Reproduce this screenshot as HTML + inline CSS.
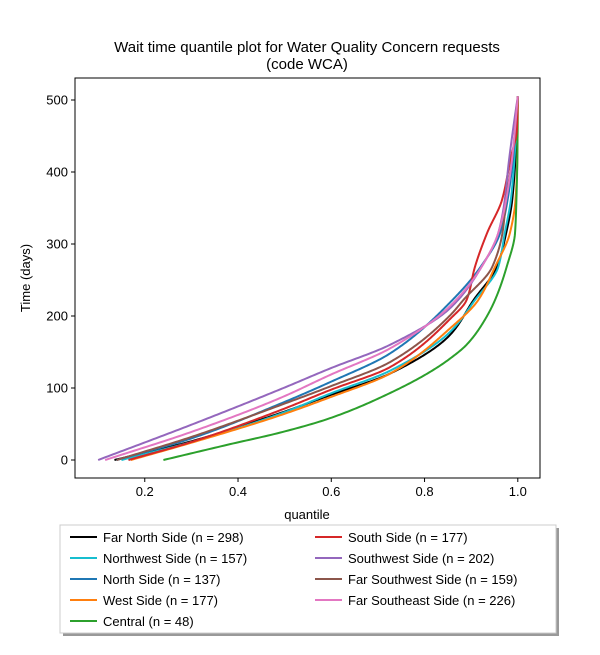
<!DOCTYPE html>
<html><head><meta charset="utf-8"><style>
body{margin:0;background:#fff;font-family:"Liberation Sans",sans-serif;}
</style></head><body>
<svg width="600" height="650" viewBox="0 0 600 650" font-family="Liberation Sans, sans-serif">
<text x="307" y="52" text-anchor="middle" font-size="15">Wait time quantile plot for Water Quality Concern  requests</text>
<text x="307" y="69" text-anchor="middle" font-size="15">(code WCA)</text>
<g id="plot"></g>
<rect x="75" y="78" width="465" height="400" fill="none" stroke="#000" stroke-width="1"/>
<g id="axes" font-size="13"></g>
<text x="307" y="519" text-anchor="middle" font-size="13">quantile</text>
<text transform="translate(30,278) rotate(-90)" text-anchor="middle" font-size="13">Time (days)</text>
<rect x="63" y="528" width="496" height="108" fill="#999"/>
<rect x="60" y="525" width="496" height="108" fill="#fff" stroke="#ccc"/>
<g id="legend" font-size="13"></g>
</svg>
<script>
const names=["Far North Side (n = 298)","Northwest Side (n = 157)","North Side (n = 137)","West Side (n = 177)","Central (n = 48)","South Side (n = 177)","Southwest Side (n = 202)","Far Southwest Side (n = 159)","Far Southeast Side (n = 226)"];
const colors=["#000000","#17becf","#1f77b4","#ff7f0e","#2ca02c","#d62728","#9467bd","#8c564b","#e377c2"];
const farNorthQ=[0.135,0.3,0.49,0.597,0.726,0.855,0.905,0.955,0.975,0.988,0.995,1];
const farNorthD=[0,26,65,90,120,174,222,268,315,361,420,505];
const northwestQ=[0.15,0.3,0.49,0.597,0.726,0.855,0.908,0.958,0.972,0.985,0.993,1];
const northwestD=[0,25,64,92,124,178,222,268,315,361,420,505];
const northQ=[0.14,0.3,0.49,0.597,0.726,0.855,0.92,0.962,0.978,0.99,1];
const northD=[0,30,78,108,148,219,268,315,361,420,505];
const westQ=[0.17,0.3,0.49,0.597,0.726,0.855,0.915,0.951,0.983,0.995,0.999,1];
const westD=[0,24,62,87,120,183,222,268,315,361,420,505];
const centralQ=[0.24,0.383,0.49,0.597,0.726,0.811,0.855,0.89,0.92,0.951,0.976,0.994,0.997,0.999,1];
const centralD=[0,22,38,58,93,122,141,160,185,222,268,315,361,420,505];
const southQ=[0.165,0.3,0.49,0.597,0.726,0.855,0.89,0.908,0.934,0.966,0.985,0.998,1];
const southD=[0,25,69,97,129,196,222,268,315,361,420,458,505];
const southwestQ=[0.1,0.3,0.49,0.597,0.726,0.855,0.922,0.958,0.972,0.98,0.99,1];
const southwestD=[0,49,98,127,160,211,268,315,361,410,460,505];
const farSouthwestQ=[0.14,0.3,0.49,0.597,0.726,0.855,0.883,0.945,0.967,0.975,0.99,1];
const farSouthwestD=[0,32,76,102,136,201,222,268,315,361,430,505];
const farSoutheastQ=[0.115,0.3,0.49,0.597,0.726,0.855,0.922,0.958,0.975,0.988,1];
const farSoutheastD=[0,39,86,118,155,214,268,315,361,420,505];
const seriesQ=[farNorthQ,northwestQ,northQ,westQ,centralQ,southQ,southwestQ,farSouthwestQ,farSoutheastQ];
const seriesD=[farNorthD,northwestD,northD,westD,centralD,southD,southwestD,farSouthwestD,farSoutheastD];
const xTicks=[0.2,0.4,0.6,0.8,1.0];
const yTicks=[0,100,200,300,400,500];
const NS="http://www.w3.org/2000/svg";
const sx=q=>51.5+466.3*q, sy=d=>460-0.72*d;
function mk(t,a,p){const e=document.createElementNS(NS,t);for(const k in a)e.setAttribute(k,a[k]);p.appendChild(e);return e;}
const plot=document.getElementById('plot'),axes=document.getElementById('axes'),leg=document.getElementById('legend');
function monotone(xs,ys){const n=xs.length,dl=[],m=[];
for(let i=0;i<n-1;i++)dl.push((ys[i+1]-ys[i])/(xs[i+1]-xs[i]));
m[0]=dl[0];m[n-1]=dl[n-2];
for(let i=1;i<n-1;i++){if(dl[i-1]*dl[i]<=0)m[i]=0;else{const w1=2*(xs[i+1]-xs[i])+(xs[i]-xs[i-1]),w2=(xs[i+1]-xs[i])+2*(xs[i]-xs[i-1]);m[i]=(w1+w2)/(w1/dl[i-1]+w2/dl[i]);}}
return x=>{let i=0;while(i<n-2&&x>xs[i+1])i++;const h=xs[i+1]-xs[i],t=(x-xs[i])/h,t2=t*t,t3=t2*t;
return (2*t3-3*t2+1)*ys[i]+(t3-2*t2+t)*h*m[i]+(-2*t3+3*t2)*ys[i+1]+(t3-t2)*h*m[i+1];};}
seriesQ.forEach((qs,i)=>{const ds=seriesD[i],f=monotone(ds,qs);let d='';
const last=ds[ds.length-1];
for(let v=0;v<=last;v+=1){d+=(v?'L':'M')+sx(f(v)).toFixed(2)+','+sy(v).toFixed(2);}
const p=mk('path',{d:d,fill:'none',stroke:colors[i],'stroke-width':2,'stroke-linejoin':'round'},plot);

});
xTicks.forEach(t=>{mk('line',{x1:sx(t),x2:sx(t),y1:478,y2:482,stroke:'#000'},axes);
const tx=mk('text',{x:sx(t),y:496,'text-anchor':'middle'},axes);tx.textContent=t.toFixed(1);

});
yTicks.forEach(t=>{mk('line',{x1:71,x2:75,y1:sy(t),y2:sy(t),stroke:'#000'},axes);
const tx=mk('text',{x:68,y:sy(t)+4.5,'text-anchor':'end'},axes);tx.textContent=t;

});
names.forEach((n,i)=>{const col=i<5?0:1,row=i<5?i:i-5;const x0=col?315:70,y0=537+row*21;
mk('line',{x1:x0,x2:x0+27,y1:y0,y2:y0,stroke:colors[i],'stroke-width':2},leg);
const tx=mk('text',{x:x0+33,y:y0+5},leg);tx.textContent=n;

});
</script>
</body></html>
